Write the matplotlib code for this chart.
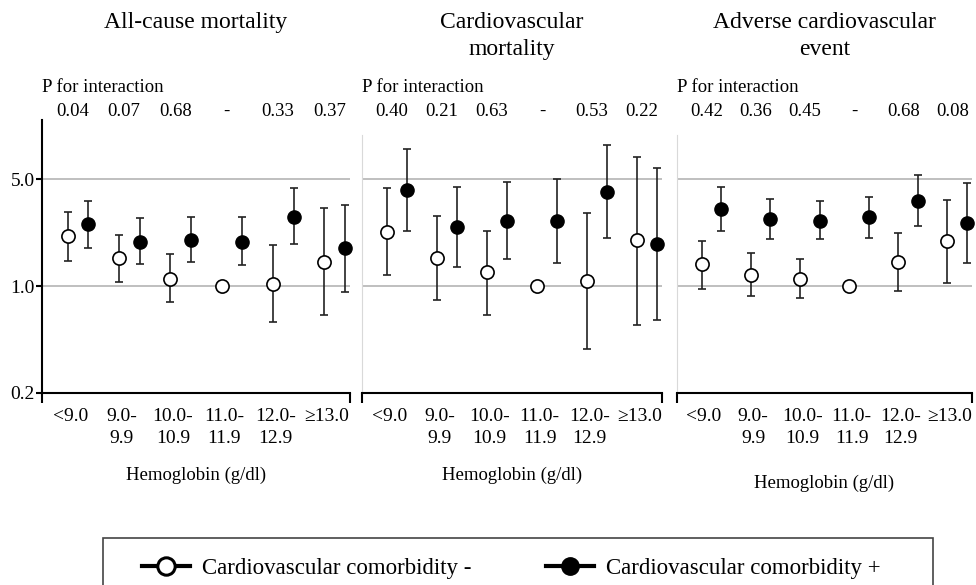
import numpy as np
import matplotlib
matplotlib.use("Agg")
import matplotlib.pyplot as plt
import matplotlib.transforms as mtransforms
from matplotlib.lines import Line2D
from matplotlib.patches import Rectangle

plt.rcParams["font.family"] = ["Liberation Serif", "DejaVu Serif"]

W, H = 976, 585

groups = ["<9.0", "9.0-\n9.9", "10.0-\n10.9", "11.0-\n11.9", "12.0-\n12.9", "≥13.0"]
titles = ["All-cause mortality", "Cardiovascular\nmortality", "Adverse cardiovascular\nevent"]

p_allcause = ["0.04", "0.07", "0.68", "-", "0.33", "0.37"]
p_cvmort = ["0.40", "0.21", "0.63", "-", "0.53", "0.22"]
p_adverse = ["0.42", "0.36", "0.45", "-", "0.68", "0.08"]

# hazard ratios, comorbidity - (open) ; group 11.0-11.9 is the reference
allcause_neg = [2.13, 1.52, 1.12, 1.0, 1.04, 1.44]
allcause_neg_lo = [1.47, 1.06, 0.79, 1.0, 0.58, 0.65]
allcause_neg_hi = [3.04, 2.16, 1.62, 1.0, 1.86, 3.23]
# comorbidity + (filled)
allcause_pos = [2.54, 1.95, 2.00, 1.95, 2.85, 1.77]
allcause_pos_lo = [1.77, 1.39, 1.44, 1.37, 1.88, 0.92]
allcause_pos_hi = [3.62, 2.79, 2.82, 2.83, 4.41, 3.40]

cvmort_neg = [2.25, 1.52, 1.23, 1.0, 1.08, 2.00]
cvmort_neg_lo = [1.18, 0.81, 0.65, 1.0, 0.39, 0.56]
cvmort_neg_hi = [4.37, 2.88, 2.30, 1.0, 2.99, 7.04]
cvmort_pos = [4.26, 2.45, 2.68, 2.68, 4.15, 1.88]
cvmort_pos_lo = [2.30, 1.33, 1.50, 1.42, 2.05, 0.60]
cvmort_pos_hi = [7.86, 4.48, 4.83, 5.00, 8.40, 5.90]

adverse_neg = [1.39, 1.19, 1.12, 1.0, 1.44, 1.96]
adverse_neg_lo = [0.96, 0.86, 0.83, 1.0, 0.93, 1.05]
adverse_neg_hi = [1.96, 1.64, 1.50, 1.0, 2.24, 3.66]
adverse_pos = [3.20, 2.75, 2.68, 2.85, 3.61, 2.57]
adverse_pos_lo = [2.30, 2.03, 2.02, 2.07, 2.49, 1.42]
adverse_pos_hi = [4.48, 3.73, 3.59, 3.85, 5.31, 4.75]

panels = [
    (allcause_neg, allcause_neg_lo, allcause_neg_hi, allcause_pos, allcause_pos_lo, allcause_pos_hi, p_allcause),
    (cvmort_neg, cvmort_neg_lo, cvmort_neg_hi, cvmort_pos, cvmort_pos_lo, cvmort_pos_hi, p_cvmort),
    (adverse_neg, adverse_neg_lo, adverse_neg_hi, adverse_pos, adverse_pos_lo, adverse_pos_hi, p_adverse),
]

# axes boxes in pixels: left, right
boxes = [(42, 350), (362, 662), (677, 972)]
ax_top, ax_bot = 120, 393

fig = plt.figure(figsize=(W / 100, H / 100), dpi=100)

x = np.arange(1, 7)
for k, ((neg, nlo, nhi, pos, plo, phi, pv), (l, r)) in enumerate(zip(panels, boxes)):
    ax = fig.add_axes([l / W, 1 - ax_bot / H, (r - l) / W, (ax_bot - ax_top) / H])
    ax.set_yscale("log")
    ax.set_ylim(0.2, 12.2)
    ax.set_xlim(0.5, 6.5)
    for g in [1.0, 5.0]:
        ax.axhline(g, color="#b4b4b4", lw=1.2, zorder=0)

    neg = np.array(neg); pos = np.array(pos)
    eb1 = ax.errorbar(x, neg, yerr=[neg - np.array(nlo), np.array(nhi) - neg], fmt="o",
                      mfc="white", mec="black", mew=1.2, ms=9.5, ecolor="#222222",
                      elinewidth=1.2, capsize=2.7, capthick=1.2, zorder=3)
    eb2 = ax.errorbar(x + 0.4, pos, yerr=[pos - np.array(plo), np.array(phi) - pos], fmt="o",
                      mfc="black", mec="black", ms=9.5, ecolor="#222222",
                      elinewidth=1.2, capsize=2.7, capthick=1.2, zorder=3)
    for eb in (eb1, eb2):
        for art in eb.get_children():
            art.set_clip_on(False)

    for s in ["top", "right"]:
        ax.spines[s].set_visible(False)
    ax.spines["bottom"].set_linewidth(1.5)
    ax.set_xticks(x + 0.05)
    ax.set_xticklabels(groups, fontsize=14, linespacing=1.35)
    ax.set_xticks([0.5, 6.5], minor=True)
    ax.tick_params(axis="x", which="major", length=0, pad=11)
    ax.tick_params(axis="x", which="minor", length=7, width=1.5, direction="out")
    ax.set_xlabel("Hemoglobin (g/dl)", fontsize=13.5, labelpad=14 + (6 if k == 2 else 0))

    ax.yaxis.set_minor_locator(matplotlib.ticker.NullLocator())
    if k == 0:
        ax.spines["left"].set_linewidth(1.5)
        ax.set_yticks([0.2, 1, 5])
        ax.set_yticklabels(["0.2", "1.0", "5.0"], fontsize=14)
        ax.tick_params(axis="y", length=4, width=1.5, pad=1)
    else:
        ax.spines["left"].set_color("#d9d9d9")
        ax.spines["left"].set_bounds(0.2, 9.7)
        ax.set_yticks([])

    trans = mtransforms.blended_transform_factory(ax.transData, fig.transFigure)
    for xi, p in zip(x, pv):
        ax.text(xi + 0.1, 1 - 111 / H, p, transform=trans, ha="center", va="center", fontsize=13.5)
    fig.text(l / W, 1 - 88 / H, "P for interaction", ha="left", va="center", fontsize=13.5)
    fig.text((l + r) / 2 / W, 1 - 12 / H, titles[k], ha="center", va="top", fontsize=17, linespacing=1.4)

handles = [
    Line2D([0], [0], color="black", lw=3, marker="o", mfc="white", mec="black", mew=2.2, ms=12.5),
    Line2D([0], [0], color="black", lw=3, marker="o", mfc="black", mec="black", ms=12.5),
]
fig.legend(handles, ["Cardiovascular comorbidity -", "Cardiovascular comorbidity +"],
           loc="center left", bbox_to_anchor=(142 / W, 1 - 568 / H), ncol=2, frameon=False,
           fontsize=16.5, handlelength=2.1, handletextpad=0.52, columnspacing=3.25,
           borderpad=0, borderaxespad=0)
fig.patches.append(Rectangle((103 / W, -0.05), (933 - 103) / W, 0.05 + 1 - 538 / H,
                             transform=fig.transFigure, fill=False, ec="#444444", lw=1.2))

fig.savefig("out.png", dpi=100)
